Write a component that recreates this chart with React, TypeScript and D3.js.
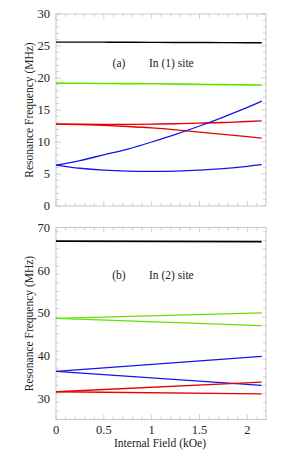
import React, { useEffect, useRef } from "react";
import * as d3 from "d3";

// field values (kOe) at which the curves were read
const fieldA = [0, 0.25, 0.5, 0.75, 1, 1.25, 1.5, 1.75, 2, 2.15];
const blackA = [25.6, 25.6, 25.6, 25.58, 25.57, 25.55, 25.54, 25.53, 25.5, 25.5];
const greenA = [19.2, 19.18, 19.15, 19.12, 19.1, 19.05, 19.0, 18.96, 18.92, 18.9];
const red1A = [12.8, 12.78, 12.75, 12.75, 12.8, 12.85, 12.95, 13.05, 13.2, 13.3];
const red2A = [12.8, 12.72, 12.6, 12.42, 12.2, 11.9, 11.55, 11.2, 10.85, 10.6];
const blue1A = [6.4, 7.1, 8.0, 8.9, 10.0, 11.2, 12.5, 13.9, 15.4, 16.4];
const blue2A = [6.4, 5.9, 5.6, 5.45, 5.4, 5.45, 5.6, 5.85, 6.2, 6.45];

const fieldB = [0, 2.15];
const blackB = [66.8, 66.7];
const green1B = [48.7, 50.0];
const green2B = [48.7, 47.0];
const blue1B = [36.3, 39.8];
const blue2B = [36.3, 33.0];
const red1B = [31.5, 33.75];
const red2B = [31.5, 31.0];

const xTicks = [0, 0.5, 1, 1.5, 2];
const yTicksA = [0, 5, 10, 15, 20, 25, 30];
const yTicksB = [30, 40, 50, 60, 70];

const BLACK = "#000";
const GREEN = "#66e000";
const RED = "#e60000";
const BLUE = "#1414f0";
const FONT = "'Liberation Serif', 'DejaVu Serif', serif";

const W = 281, H = 457;
const left = 56, right = 266;

const App = () => {
  const ref = useRef(null);

  useEffect(() => {
    const svg = d3.select(ref.current);
    svg.selectAll("*").remove();

    const x = d3.scaleLinear().domain([0, 2.195]).range([left, right]);

    const panel = (top, bottom, yDomain, yTicks, yMinor, series, xs, label, site, labelY, showX) => {
      const y = d3.scaleLinear().domain(yDomain).range([bottom, top]);
      const g = svg.append("g");

      // minor / major ticks, inward on all sides
      const xMinor = d3.range(0, 2.2, 0.1);
      xMinor.forEach(v => {
        const major = Math.abs(v * 2 - Math.round(v * 2)) < 1e-6;
        const len = major ? 5 : 3;
        g.append("line").attr("x1", x(v)).attr("x2", x(v)).attr("y1", bottom).attr("y2", bottom - len)
          .attr("stroke", "#bbb").attr("stroke-width", 0.7);
        g.append("line").attr("x1", x(v)).attr("x2", x(v)).attr("y1", top).attr("y2", top + len)
          .attr("stroke", "#bbb").attr("stroke-width", 0.7);
      });
      d3.range(yDomain[0], yDomain[1] + 1e-6, yMinor).forEach(v => {
        const major = yTicks.includes(v);
        const len = major ? 5 : 3;
        g.append("line").attr("x1", left).attr("x2", left + len).attr("y1", y(v)).attr("y2", y(v))
          .attr("stroke", "#bbb").attr("stroke-width", 0.7);
        g.append("line").attr("x1", right).attr("x2", right - len).attr("y1", y(v)).attr("y2", y(v))
          .attr("stroke", "#bbb").attr("stroke-width", 0.7);
      });

      g.append("rect").attr("x", left).attr("y", top).attr("width", right - left).attr("height", bottom - top)
        .attr("fill", "none").attr("stroke", "#bbb").attr("stroke-width", 0.8);

      g.selectAll("text.yt").data(yTicks).enter().append("text")
        .attr("class", "yt")
        .attr("x", left - 6).attr("y", d => y(d)).attr("dy", "0.35em")
        .attr("text-anchor", "end")
        .attr("font-family", FONT).attr("font-size", 12.5).attr("fill", "#222")
        .text(d => d);

      if (showX) {
        g.selectAll("text.xt").data(xTicks).enter().append("text")
          .attr("class", "xt")
          .attr("x", d => x(d)).attr("y", bottom + 14)
          .attr("text-anchor", "middle")
          .attr("font-family", FONT).attr("font-size", 12.5).attr("fill", "#222")
          .text(d => d);
      }

      const line = d3.line().x(d => x(d[0])).y(d => y(d[1])).curve(d3.curveNatural);
      series.forEach(s => {
        g.append("path")
          .attr("d", line(xs.map((v, i) => [v, s.values[i]])))
          .attr("fill", "none").attr("stroke", s.color).attr("stroke-width", s.w || 1.3);
      });

      g.append("text").attr("x", 119).attr("y", labelY).attr("text-anchor", "middle")
        .attr("font-family", FONT).attr("font-size", 11.5).attr("fill", "#222")
        .text(label);
      g.append("text").attr("x", 149).attr("y", labelY)
        .attr("font-family", FONT).attr("font-size", 11.5).attr("fill", "#222")
        .text(site);

      g.append("text")
        .attr("transform", `translate(29,${(top + bottom) / 2}) rotate(-90)`)
        .attr("text-anchor", "middle").attr("dy", "0.35em")
        .attr("font-family", FONT).attr("font-size", 11.5).attr("fill", "#222")
        .text("Resonance Frequency (MHz)");
    };

    panel(14, 206, [0, 30], yTicksA, 1, [
      { values: blackA, color: BLACK, w: 1.4 },
      { values: greenA, color: GREEN, w: 1.6 },
      { values: red1A, color: RED },
      { values: red2A, color: RED },
      { values: blue1A, color: BLUE },
      { values: blue2A, color: BLUE },
    ], fieldA, "(a)", "In (1) site", 67, false);

    panel(227.5, 419.5, [25, 70], yTicksB, 2, [
      { values: blackB, color: BLACK, w: 1.6 },
      { values: green1B, color: GREEN },
      { values: green2B, color: GREEN },
      { values: blue1B, color: BLUE },
      { values: blue2B, color: BLUE },
      { values: red1B, color: RED },
      { values: red2B, color: RED },
    ], fieldB, "(b)", "In (2) site", 279, true);

    svg.append("text").attr("x", 160).attr("y", 447).attr("text-anchor", "middle")
      .attr("font-family", FONT).attr("font-size", 11.5).attr("fill", "#222")
      .text("Internal Field (kOe)");
  }, []);

  return (
    <svg ref={ref} width={W} height={H} style={{ position: "absolute", left: 0, top: 0, background: "#fff" }} />
  );
};

export default App;
